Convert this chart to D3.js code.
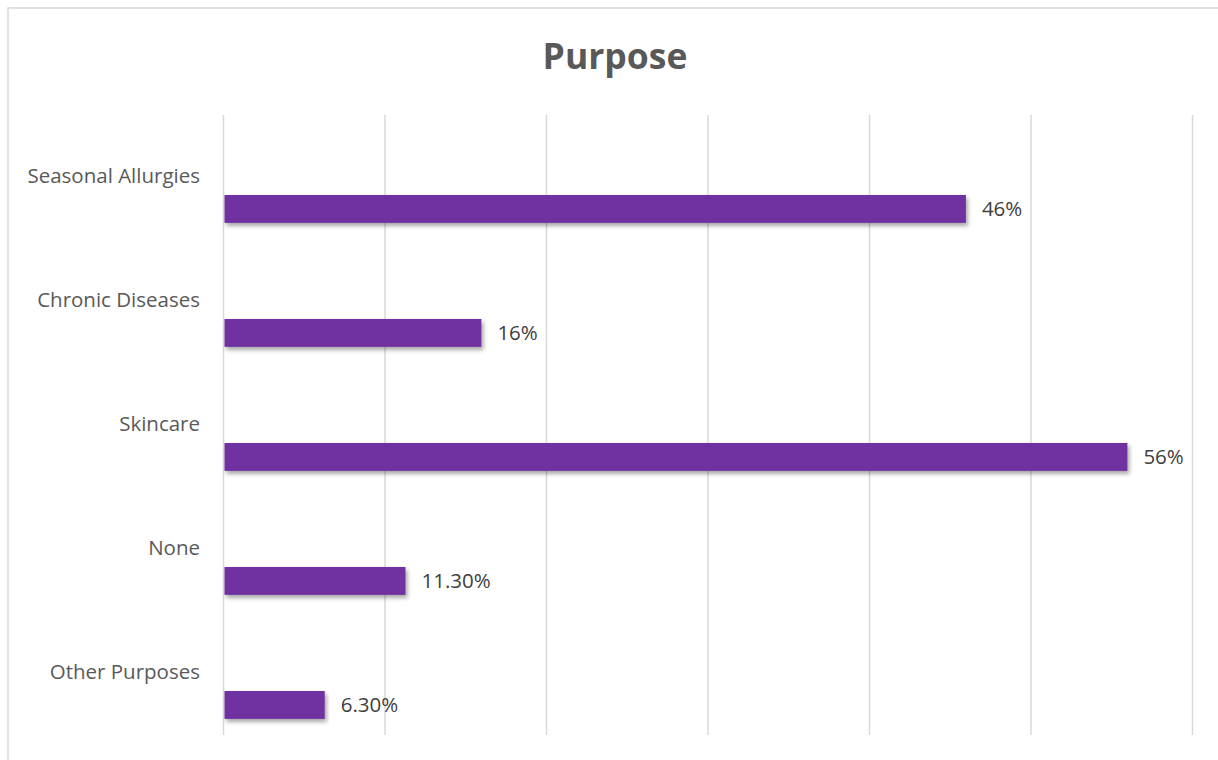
<!DOCTYPE html>
<html>
<head>
<meta charset="utf-8">
<script src="https://cdn.jsdelivr.net/npm/d3@7"></script>
<style>
  html, body { margin: 0; padding: 0; background: #fff; }
  svg { display: block; }
</style>
</head>
<body>
<svg id="chart" width="1218" height="760"></svg>
<script>
// Survey: reported purpose of use
const categories = ["Seasonal Allurgies", "Chronic Diseases", "Skincare", "None", "Other Purposes"];
const shares = [0.46, 0.16, 0.56, 0.113, 0.063];
const shareLabels = ["46%", "16%", "56%", "11.30%", "6.30%"];
const gridTicks = [0, 0.1, 0.2, 0.3, 0.4, 0.5, 0.6];
const chartTitle = "Purpose";

const svg = d3.select("#chart");
const W = 1218, H = 760;
const FONT = "'Open Sans', Lato, sans-serif";

// Drop shadow used under each bar
const defs = svg.append("defs");
const f = defs.append("filter").attr("id", "barShadow")
  .attr("x", "-5%").attr("y", "-30%").attr("width", "110%").attr("height", "180%");
f.append("feDropShadow").attr("dx", 2).attr("dy", 3).attr("stdDeviation", 2)
  .attr("flood-color", "#000").attr("flood-opacity", 0.35);

// Chart frame
svg.append("rect")
  .attr("x", 8).attr("y", 8).attr("width", W + 10).attr("height", H + 10)
  .attr("fill", "#fff").attr("stroke", "#d9d9d9").attr("stroke-width", 1.5);

const x = d3.scaleLinear().domain([0, 0.6]).range([223, 1192]);
const y = d3.scaleBand().domain(categories).range([115, 735]).paddingInner(0);

// Vertical gridlines
svg.append("g")
  .attr("transform", "translate(0,115)")
  .call(d3.axisTop(x).tickValues(gridTicks).tickSize(-(735 - 115)).tickFormat(""))
  .call(g => g.select(".domain").remove())
  .call(g => g.selectAll(".tick line").attr("stroke", "#d9d9d9").attr("stroke-width", 1.5));

// Title
svg.append("text")
  .attr("x", 615).attr("y", 69)
  .attr("text-anchor", "middle")
  .attr("font-family", FONT).attr("font-weight", "bold").attr("font-size", 35.5)
  .attr("fill", "#595959")
  .text(chartTitle);

// Category labels sit above their bars, right-aligned
svg.append("g").selectAll("text")
  .data(categories)
  .join("text")
  .attr("x", 200)
  .attr("y", d => y(d) + y.bandwidth() / 2 - 1)
  .attr("dy", "0.35em")
  .attr("text-anchor", "end")
  .attr("font-family", FONT).attr("font-size", 20.5)
  .attr("fill", "#595959")
  .text(d => d);

// Bars occupy the lower part of each band
const barTop = 0.645, barH = 0.225;
const data = categories.map((c, i) => ({ c, v: shares[i], label: shareLabels[i] }));

svg.append("g").selectAll("rect")
  .data(data)
  .join("rect")
  .attr("x", x(0) + 1.5)
  .attr("y", d => y(d.c) + y.bandwidth() * barTop)
  .attr("width", d => x(d.v) - x(0) - 1.5)
  .attr("height", y.bandwidth() * barH)
  .attr("fill", "#7030a0")
  .attr("filter", "url(#barShadow)");

// Value labels
svg.append("g").selectAll("text")
  .data(data)
  .join("text")
  .attr("x", d => x(d.v) + 16)
  .attr("y", d => y(d.c) + y.bandwidth() * (barTop + barH / 2))
  .attr("dy", "0.35em")
  .attr("font-family", FONT).attr("font-size", 20.5)
  .attr("fill", "#404040")
  .text(d => d.label);
</script>
</body>
</html>
